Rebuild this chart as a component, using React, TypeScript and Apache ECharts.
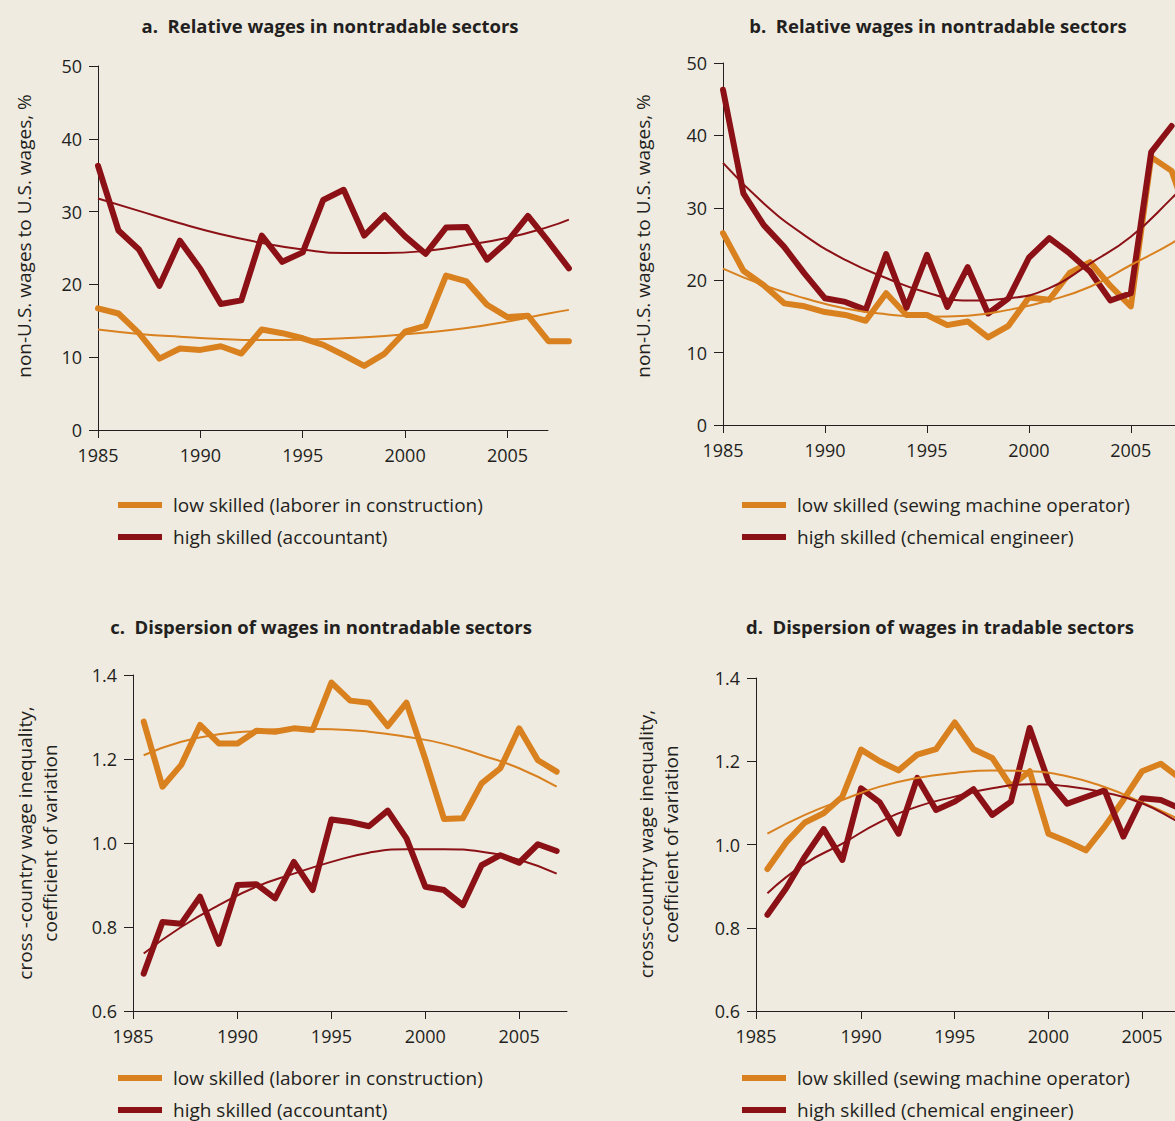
import React, { useEffect, useRef } from "react";
import * as echarts from "echarts";

const FONT = '"Open Sans", "Noto Sans", sans-serif';
const ORANGE = "#D9801F";
const RED = "#8C1116";
const BG = "#EFEBE1";
const INK = "#231F20";

// ---------- Panel a ----------
const yearsA = [1985, 1986, 1987, 1988, 1989, 1990, 1991, 1992, 1993, 1994, 1995, 1996, 1997, 1998, 1999, 2000, 2001, 2002, 2003, 2004, 2005, 2006, 2007, 2008];
const aLow = [16.7, 16.0, 13.3, 9.8, 11.2, 11.0, 11.5, 10.5, 13.8, 13.3, 12.6, 11.7, 10.3, 8.8, 10.5, 13.5, 14.3, 21.2, 20.4, 17.2, 15.5, 15.7, 12.2, 12.2];
const aHigh = [36.3, 27.4, 24.8, 19.8, 26.0, 22.1, 17.3, 17.8, 26.7, 23.1, 24.4, 31.6, 33.0, 26.7, 29.5, 26.6, 24.2, 27.8, 27.9, 23.4, 25.9, 29.4, 25.9, 22.2];
const trendYearsA = [1985, 1987, 1989, 1991, 1993, 1995, 1997, 1999, 2001, 2003, 2005, 2007, 2008];
const aLowTrend = [13.8, 13.2, 12.8, 12.5, 12.35, 12.4, 12.6, 12.9, 13.4, 14.0, 14.9, 16.0, 16.5];
const aHighTrend = [31.8, 30.1, 28.4, 26.9, 25.7, 24.8, 24.3, 24.3, 24.6, 25.4, 26.4, 27.9, 28.9];

// ---------- Panel b ----------
const yearsBHigh = [1985, 1986, 1987, 1988, 1989, 1990, 1991, 1992, 1993, 1994, 1995, 1996, 1997, 1998, 1999, 2000, 2001, 2002, 2003, 2004, 2005, 2006, 2007];
const bHigh = [46.3, 32.0, 27.6, 24.6, 20.9, 17.5, 17.0, 15.9, 23.6, 16.2, 23.5, 16.3, 21.8, 15.4, 17.5, 23.1, 25.8, 23.7, 21.2, 17.2, 18.2, 37.7, 41.3];
const yearsBLow = [1985, 1986, 1987, 1988, 1989, 1990, 1991, 1992, 1993, 1994, 1995, 1996, 1997, 1998, 1999, 2000, 2001, 2002, 2003, 2004, 2005, 2006, 2007, 2008];
const bLow = [26.5, 21.3, 19.3, 16.8, 16.4, 15.6, 15.2, 14.4, 18.2, 15.2, 15.2, 13.8, 14.3, 12.1, 13.7, 17.6, 17.3, 21.0, 22.5, 19.2, 16.4, 37.0, 35.1, 27.0];
const trendYearsB = [1985, 1987, 1989, 1991, 1993, 1995, 1997, 1999, 2001, 2003, 2005, 2007, 2008];
const bLowTrend = [21.6, 19.3, 17.5, 16.1, 15.3, 14.95, 15.1, 15.9, 17.2, 19.1, 22.1, 25.1, 27.0];
const bHighTrend = [36.2, 30.6, 26.2, 22.8, 20.3, 18.3, 17.2, 17.5, 18.9, 22.3, 26.0, 31.3, 34.3];

// ---------- Panel c ----------
const yearsC = [1985, 1986, 1987, 1988, 1989, 1990, 1991, 1992, 1993, 1994, 1995, 1996, 1997, 1998, 1999, 2000, 2001, 2002, 2003, 2004, 2005, 2006, 2007];
const cLow = [1.289, 1.134, 1.186, 1.281, 1.237, 1.237, 1.267, 1.265, 1.273, 1.269, 1.382, 1.339, 1.334, 1.278, 1.334, 1.2, 1.057, 1.059, 1.142, 1.178, 1.273, 1.197, 1.17];
const cHigh = [0.689, 0.812, 0.808, 0.872, 0.76, 0.9, 0.902, 0.868, 0.955, 0.888, 1.056, 1.05, 1.04, 1.077, 1.011, 0.896, 0.888, 0.852, 0.947, 0.971, 0.953, 0.997, 0.981];
const trendYearsC = [1985, 1987, 1989, 1991, 1993, 1995, 1997, 1999, 2001, 2003, 2005, 2007];
const cLowTrend = [1.209, 1.241, 1.259, 1.267, 1.272, 1.271, 1.265, 1.253, 1.236, 1.209, 1.178, 1.134];
const cHighTrend = [0.737, 0.8, 0.852, 0.896, 0.927, 0.955, 0.977, 0.985, 0.985, 0.979, 0.96, 0.927];

// ---------- Panel d ----------
const yearsD = [1985, 1986, 1987, 1988, 1989, 1990, 1991, 1992, 1993, 1994, 1995, 1996, 1997, 1998, 1999, 2000, 2001, 2002, 2003, 2004, 2005, 2006, 2007];
const dLow = [0.941, 1.005, 1.053, 1.075, 1.115, 1.228, 1.2, 1.178, 1.216, 1.229, 1.293, 1.229, 1.208, 1.14, 1.176, 1.026, 1.007, 0.986, 1.043, 1.107, 1.176, 1.194, 1.16];
const dHigh = [0.831, 0.895, 0.971, 1.037, 0.963, 1.135, 1.101, 1.026, 1.16, 1.083, 1.103, 1.133, 1.071, 1.103, 1.28, 1.152, 1.098, 1.114, 1.13, 1.019, 1.111, 1.107, 1.087];
const trendYearsD = [1985, 1987, 1989, 1991, 1993, 1995, 1997, 1999, 2001, 2003, 2005, 2007, 2008];
const dLowTrend = [1.026, 1.071, 1.107, 1.139, 1.16, 1.172, 1.178, 1.176, 1.164, 1.138, 1.101, 1.06, 1.035];
const dHighTrend = [0.883, 0.954, 1.002, 1.054, 1.091, 1.115, 1.135, 1.145, 1.14, 1.125, 1.099, 1.053, 1.03];

// ---------- Texts ----------
const titles = [
  "a.  Relative wages in nontradable sectors",
  "b.  Relative wages in nontradable sectors",
  "c.  Dispersion of wages in nontradable sectors",
  "d.  Dispersion of wages in tradable sectors",
];
const yNameTop = "non-U.S. wages to U.S. wages, %";
const yNameC = "cross -country wage inequality,\ncoefficient of variation";
const yNameD = "cross-country wage inequality,\ncoefficient of variation";
const legendA = ["low skilled (laborer in construction)", "high skilled (accountant)"];
const legendB = ["low skilled (sewing machine operator)", "high skilled (chemical engineer)"];

// tick labels
const xTickLabels = ["1985", "1990", "1995", "2000", "2005"];
const xTickValsAB = [1985, 1990, 1995, 2000, 2005];
const xMinC = 1984.43;
const xMinD = 1984.39;
const xTickValsC = [xMinC, 1990, 1995, 2000, 2005];
const xTickValsD = [xMinD, 1990, 1995, 2000, 2005];

const pairs = (xs: number[], ys: number[]) => xs.map((x, i) => [x, ys[i]]);

function xAxis(gridIndex: number, min: number, max: number, vals: number[], showLine = true, showTicks = true) {
  return {
    type: "value",
    gridIndex,
    min,
    max,
    axisLine: { show: showLine, onZero: false, lineStyle: { color: INK, width: 1 } },
    axisTick: { show: showTicks, length: 8, customValues: vals, lineStyle: { color: INK, width: 1 } },
    axisLabel: {
      show: showTicks,
      customValues: vals,
      margin: 16,
      color: INK,
      fontSize: 18,
      fontFamily: FONT,
      formatter: (v: number) => {
        const idx = vals.findIndex((t) => Math.abs(t - v) < 1e-6);
        return idx >= 0 ? xTickLabels[idx] : "";
      },
    },
    splitLine: { show: false },
  };
}

function yAxis(gridIndex: number, min: number, max: number, interval: number, digits: number, show = true) {
  return {
    type: "value",
    gridIndex,
    min,
    max,
    interval,
    show,
    axisLine: { show: true, lineStyle: { color: INK, width: 1 } },
    axisTick: { show: true, length: 9, lineStyle: { color: INK, width: 1 } },
    axisLabel: {
      margin: 16,
      color: INK,
      fontSize: 18,
      fontFamily: FONT,
      formatter: (v: number) => v.toFixed(digits),
    },
    splitLine: { show: false },
  };
}

function dataLine(name: string, idx: number, data: number[][], color: string, z: number) {
  return {
    type: "line",
    name,
    xAxisIndex: idx,
    yAxisIndex: idx,
    data,
    symbol: "none",
    clip: false,
    silent: true,
    z,
    lineStyle: { width: 6, color, cap: "round", join: "round" },
    itemStyle: { color },
  };
}

function trendLine(name: string, idx: number, data: number[][], color: string, z: number) {
  return {
    type: "line",
    name,
    xAxisIndex: idx,
    yAxisIndex: idx,
    data,
    symbol: "none",
    smooth: true,
    clip: false,
    silent: true,
    z,
    lineStyle: { width: 2, color },
    itemStyle: { color },
  };
}

function legend(left: number, top: number, names: string[]) {
  return {
    orient: "vertical",
    left,
    top,
    padding: 0,
    itemGap: 13,
    itemWidth: 44,
    itemHeight: 6,
    icon: "rect",
    selectedMode: false,
    data: names,
    itemStyle: { borderWidth: 0 },
    textStyle: { fontSize: 19, fontFamily: FONT, color: INK, padding: [0, 0, 0, 6] },
  };
}

function titleText(x: number, y: number, text: string) {
  return {
    type: "text",
    x,
    y,
    silent: true,
    style: {
      text,
      fill: INK,
      fontSize: 18.5,
      fontWeight: "bold",
      fontFamily: FONT,
      align: "center",
      verticalAlign: "middle",
    },
  };
}

function axisName(x: number, y: number, text: string) {
  return {
    type: "text",
    x,
    y,
    rotation: Math.PI / 2,
    silent: true,
    style: {
      text,
      fill: INK,
      fontSize: 19,
      fontFamily: FONT,
      align: "center",
      verticalAlign: "middle",
      lineHeight: 25,
    },
  };
}

const gridBase = { outerBoundsMode: "none", containLabel: false };

const option = {
  animation: false,
  backgroundColor: BG,
  textStyle: { fontFamily: FONT },
  grid: [
    // data grid of panel a (runs to 2008, beyond its drawn axis line)
    { ...gridBase, left: 98, top: 66, width: 470.9, height: 364 },
    { ...gridBase, left: 723, top: 63, width: 469, height: 362 },
    { ...gridBase, left: 133, top: 675, width: 434, height: 336 },
    { ...gridBase, left: 756, top: 678, width: 461, height: 333 },
    // axis-line grid of panel a (axis line stops at 2007)
    { ...gridBase, left: 98, top: 66, width: 450, height: 364 },
  ],
  xAxis: [
    xAxis(0, 1985, 2008, xTickValsAB, false, true),
    xAxis(1, 1985, 2008, xTickValsAB),
    xAxis(2, xMinC, 2007.55, xTickValsC),
    xAxis(3, xMinD, 2009, xTickValsD),
    xAxis(4, 1985, 2007, xTickValsAB, true, false),
  ],
  yAxis: [
    yAxis(0, 0, 50, 10, 0),
    yAxis(1, 0, 50, 10, 0),
    yAxis(2, 0.6, 1.4, 0.2, 1),
    yAxis(3, 0.6, 1.4, 0.2, 1),
    yAxis(4, 0, 50, 10, 0, false),
  ],
  legend: [
    legend(118, 495.5, legendA),
    legend(742, 495.5, legendB),
    legend(118, 1068.5, legendA),
    legend(742, 1068.5, legendB),
  ],
  graphic: [
    titleText(330, 25, titles[0]),
    titleText(938, 25, titles[1]),
    titleText(321, 626, titles[2]),
    titleText(940, 626, titles[3]),
    axisName(24, 236, yNameTop),
    axisName(643, 236, yNameTop),
    axisName(37, 843, yNameC),
    axisName(658, 844, yNameD),
  ],
  series: [
    dataLine(legendA[0], 0, pairs(yearsA, aLow), ORANGE, 2),
    dataLine(legendA[1], 0, pairs(yearsA, aHigh), RED, 3),
    trendLine("a low trend", 0, pairs(trendYearsA, aLowTrend), ORANGE, 4),
    trendLine("a high trend", 0, pairs(trendYearsA, aHighTrend), RED, 5),

    dataLine(legendB[0], 1, pairs(yearsBLow, bLow), ORANGE, 2),
    dataLine(legendB[1], 1, pairs(yearsBHigh, bHigh), RED, 3),
    trendLine("b low trend", 1, pairs(trendYearsB, bLowTrend), ORANGE, 4),
    trendLine("b high trend", 1, pairs(trendYearsB, bHighTrend), RED, 5),

    dataLine(legendA[0], 2, pairs(yearsC, cLow), ORANGE, 2),
    dataLine(legendA[1], 2, pairs(yearsC, cHigh), RED, 3),
    trendLine("c low trend", 2, pairs(trendYearsC, cLowTrend), ORANGE, 4),
    trendLine("c high trend", 2, pairs(trendYearsC, cHighTrend), RED, 5),

    dataLine(legendB[0], 3, pairs(yearsD, dLow), ORANGE, 2),
    dataLine(legendB[1], 3, pairs(yearsD, dHigh), RED, 3),
    trendLine("d low trend", 3, pairs(trendYearsD, dLowTrend), ORANGE, 4),
    trendLine("d high trend", 3, pairs(trendYearsD, dHighTrend), RED, 5),
  ],
};

export default function App() {
  const ref = useRef<HTMLDivElement>(null);
  useEffect(() => {
    if (!ref.current) return;
    const chart = echarts.init(ref.current, undefined, { renderer: "svg" });
    chart.setOption(option as any);
    return () => chart.dispose();
  }, []);
  return (
    <div
      ref={ref}
      style={{
        position: "absolute",
        left: 0,
        top: 0,
        width: 1175,
        height: 1121,
        background: BG,
        overflow: "hidden",
      }}
    />
  );
}
